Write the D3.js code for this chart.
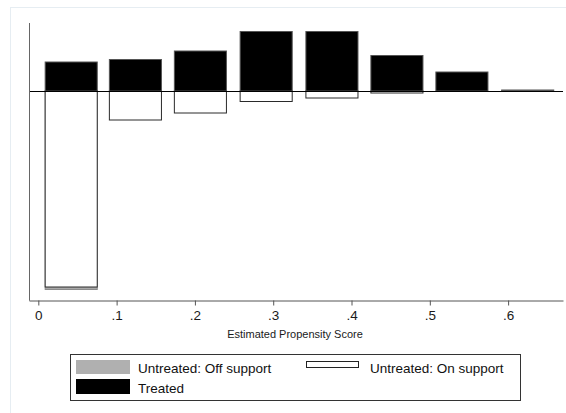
<!DOCTYPE html>
<html>
<head>
<meta charset="utf-8">
<script src="https://cdn.jsdelivr.net/npm/d3@7"></script>
<style>
  body { margin: 0; background: #fff; }
  svg { display: block; font-family: Arial, "Liberation Sans", sans-serif; }
</style>
</head>
<body>
<svg width="566" height="413"></svg>
<script>
// bin midpoints of the propensity score histogram
let binCenters = [0.042, 0.124, 0.207, 0.291, 0.375, 0.458, 0.541, 0.625];
let binWidth = 0.0665;

// frequencies (treated above zero, untreated below)
let treated = [58, 63, 80, 119, 119, 71, 38, 2];
let untreatedOn = [392, 58, 44, 21, 14, 4, 0, 0];
let untreatedOff = [5, 0, 0, 0, 0, 0, 0, 0];

let xTicks = [0, 0.1, 0.2, 0.3, 0.4, 0.5, 0.6];
let xTickLabels = ["0", ".1", ".2", ".3", ".4", ".5", ".6"];

let legendLabels = ["Untreated: Off support", "Untreated: On support", "Treated"];

let width = 566, height = 413;

let svg = d3.select("svg")
    .attr("viewBox", "0 0 " + width + " " + height);

// outer graph region frame
svg.append("rect")
    .attr("x", 10.5).attr("y", 7.5)
    .attr("width", 600).attr("height", 450)
    .attr("fill", "#fff")
    .attr("stroke", "#e6edf2");

let x = d3.scaleLinear()
    .domain([-0.0119, 0.6701])
    .range([29, 563]);

let y = d3.scaleLinear()
    .domain([-419.4, 136])
    .range([300.7, 23]);

let bins = binCenters.map((c, i) => ({
    c: c,
    t: treated[i],
    on: untreatedOn[i],
    off: untreatedOff[i]
}));

let plot = svg.append("g");

// untreated off support (drawn under the on-support bars)
plot.selectAll(".off")
    .data(bins.filter(d => d.off > 0))
    .enter()
    .append("rect")
    .attr("class", "off")
    .attr("x", d => x(d.c - binWidth / 2))
    .attr("y", y(0))
    .attr("width", d => x(d.c + binWidth / 2) - x(d.c - binWidth / 2))
    .attr("height", d => y(-(d.on + d.off)) - y(0))
    .attr("fill", "#a8a8a8")
    .attr("stroke", "#8c8c8c");

// untreated on support
plot.selectAll(".on")
    .data(bins.filter(d => d.on > 0))
    .enter()
    .append("rect")
    .attr("class", "on")
    .attr("x", d => x(d.c - binWidth / 2))
    .attr("y", y(0))
    .attr("width", d => x(d.c + binWidth / 2) - x(d.c - binWidth / 2))
    .attr("height", d => y(-d.on) - y(0))
    .attr("fill", "#fff")
    .attr("stroke", "#2a2a2a");

// treated
plot.selectAll(".tr")
    .data(bins)
    .enter()
    .append("rect")
    .attr("class", "tr")
    .attr("x", d => x(d.c - binWidth / 2))
    .attr("y", d => y(d.t))
    .attr("width", d => x(d.c + binWidth / 2) - x(d.c - binWidth / 2))
    .attr("height", d => y(0) - y(d.t))
    .attr("fill", "#000")
    .attr("stroke", "#555");

// zero line
svg.append("line")
    .attr("x1", x.range()[0]).attr("x2", x.range()[1])
    .attr("y1", Math.round(y(0)) + 0.5).attr("y2", Math.round(y(0)) + 0.5)
    .attr("stroke", "#000");

// y axis (no labels)
svg.append("line")
    .attr("x1", 29.5).attr("x2", 29.5)
    .attr("y1", y.range()[1]).attr("y2", y.range()[0])
    .attr("stroke", "#666");

// x axis
let xAxis = d3.axisBottom(x)
    .tickValues(xTicks)
    .tickFormat((d, i) => xTickLabels[i])
    .tickSize(5)
    .tickPadding(5)
    .tickSizeOuter(0);

let gx = svg.append("g")
    .attr("transform", "translate(0," + 300.5 + ")")
    .call(xAxis);
gx.select(".domain").attr("stroke", "#555");
gx.selectAll(".tick line").attr("stroke", "#555");
gx.selectAll(".tick text")
    .attr("font-size", 13.5)
    .attr("fill", "#1a1a1a")
    .attr("font-family", "Arial, 'Liberation Sans', sans-serif");

svg.append("text")
    .attr("x", 295).attr("y", 338)
    .attr("text-anchor", "middle")
    .attr("font-size", 11)
    .attr("fill", "#1a1a1a")
    .text("Estimated Propensity Score");

// Legend
let lg = svg.append("g");
lg.append("rect")
    .attr("x", 70.5).attr("y", 354.5)
    .attr("width", 450).attr("height", 46)
    .attr("fill", "#fff")
    .attr("stroke", "#333");

lg.append("rect")
    .attr("x", 76).attr("y", 360)
    .attr("width", 54).attr("height", 14)
    .attr("fill", "#b0b0b0");
lg.append("rect")
    .attr("x", 306.5).attr("y", 361.5)
    .attr("width", 52).attr("height", 6)
    .attr("fill", "#fff")
    .attr("stroke", "#222");
lg.append("rect")
    .attr("x", 76).attr("y", 379)
    .attr("width", 54).attr("height", 15)
    .attr("fill", "#000");

let legendPos = [[138, 372.5], [370, 372.5], [138, 392.5]];
lg.selectAll(".lt")
    .data(legendLabels)
    .enter()
    .append("text")
    .attr("x", (d, i) => legendPos[i][0])
    .attr("y", (d, i) => legendPos[i][1])
    .attr("font-size", 13.5)
    .attr("fill", "#111")
    .text(d => d);
</script>
</body>
</html>
